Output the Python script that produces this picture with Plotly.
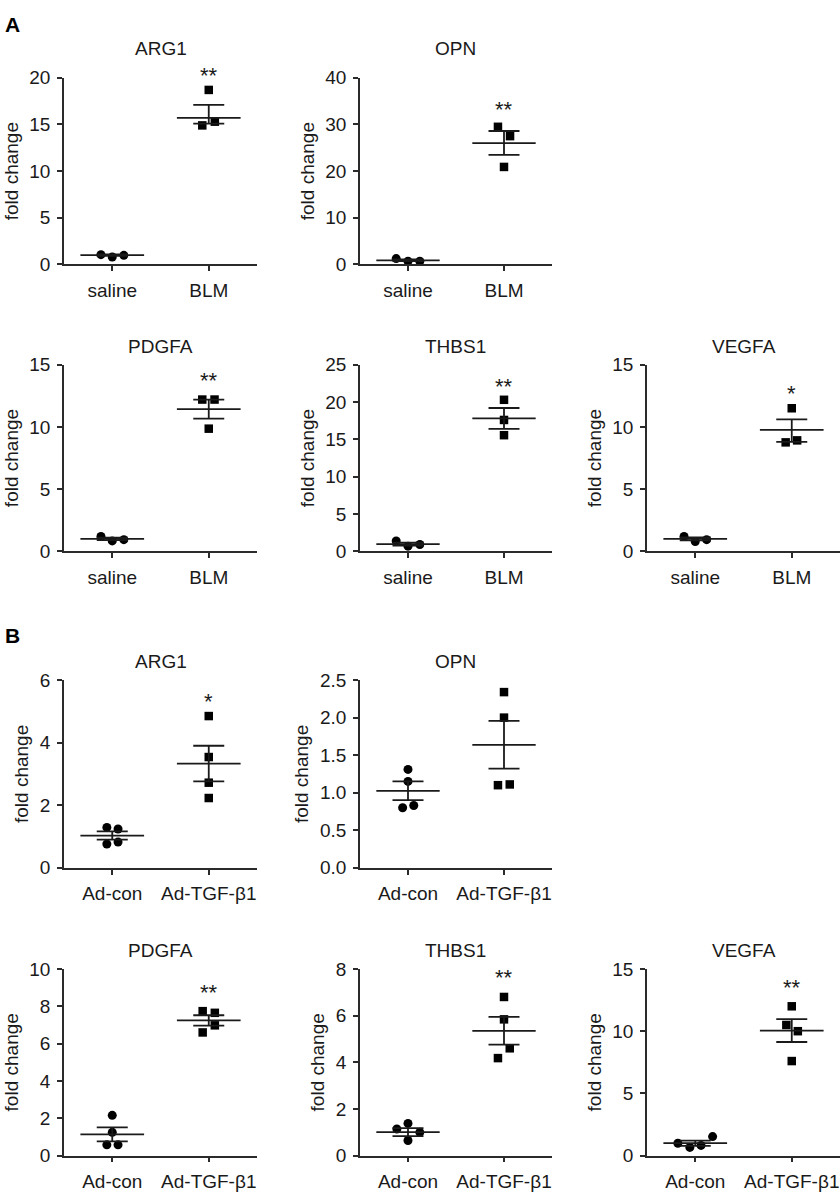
import plotly.graph_objects as go

W, H = 840, 1203

# ---------------- data ----------------
groups_A = ["saline", "BLM"]
groups_B = ["Ad-con", "Ad-TGF-\u03b21"]

# Panel A (bleomycin)
A_ARG1_ctrl = [1.05, 0.80, 0.98]
A_ARG1_trt = [18.7, 14.9, 15.3]
A_ARG1_mean = [1.0, 15.7]
A_ARG1_up = [0.07, 1.4]
A_ARG1_dn = [0.07, 0.6]

A_OPN_ctrl = [1.26, 0.70, 0.70]
A_OPN_trt = [29.5, 27.5, 20.9]
A_OPN_mean = [0.9, 26.0]
A_OPN_up = [0.19, 2.6]
A_OPN_dn = [0.19, 2.5]

A_PDGFA_ctrl = [1.20, 0.84, 0.94]
A_PDGFA_trt = [12.2, 12.2, 9.86]
A_PDGFA_mean = [1.0, 11.43]
A_PDGFA_up = [0.1, 0.77]
A_PDGFA_dn = [0.1, 0.76]

A_THBS1_ctrl = [1.40, 0.70, 0.92]
A_THBS1_trt = [20.3, 17.6, 15.56]
A_THBS1_mean = [0.96, 17.8]
A_THBS1_up = [0.2, 1.4]
A_THBS1_dn = [0.2, 1.4]

A_VEGFA_ctrl = [1.20, 0.79, 0.94]
A_VEGFA_trt = [11.5, 8.76, 8.92]
A_VEGFA_mean = [1.0, 9.76]
A_VEGFA_up = [0.12, 0.84]
A_VEGFA_dn = [0.12, 0.96]

# Panel B (Ad-TGF-beta1)
B_ARG1_ctrl = [1.29, 1.24, 0.76, 0.82]
B_ARG1_trt = [4.85, 3.54, 2.72, 2.23]
B_ARG1_mean = [1.03, 3.33]
B_ARG1_up = [0.13, 0.57]
B_ARG1_dn = [0.13, 0.57]

B_OPN_ctrl = [1.31, 1.15, 0.80, 0.83]
B_OPN_trt = [2.34, 2.00, 1.10, 1.11]
B_OPN_mean = [1.025, 1.636]
B_OPN_up = [0.125, 0.32]
B_OPN_dn = [0.125, 0.316]

B_PDGFA_ctrl = [2.16, 1.25, 0.58, 0.58]
B_PDGFA_trt = [7.74, 7.65, 6.98, 6.60]
B_PDGFA_mean = [1.14, 7.25]
B_PDGFA_up = [0.37, 0.27]
B_PDGFA_dn = [0.38, 0.28]

B_THBS1_ctrl = [1.38, 1.14, 1.00, 0.65]
B_THBS1_trt = [6.80, 5.84, 4.60, 4.18]
B_THBS1_mean = [1.01, 5.35]
B_THBS1_up = [0.17, 0.6]
B_THBS1_dn = [0.17, 0.59]

B_VEGFA_ctrl = [1.00, 0.66, 0.82, 1.53]
B_VEGFA_trt = [12.0, 10.5, 10.0, 7.6]
B_VEGFA_mean = [1.0, 10.05]
B_VEGFA_up = [0.21, 0.92]
B_VEGFA_dn = [0.21, 0.92]

# y-axis tick values
ticks_A_ARG1 = [0, 5, 10, 15, 20]
ticks_A_OPN = [0, 10, 20, 30, 40]
ticks_A_PDGFA = [0, 5, 10, 15]
ticks_A_THBS1 = [0, 5, 10, 15, 20, 25]
ticks_A_VEGFA = [0, 5, 10, 15]
ticks_B_ARG1 = [0, 2, 4, 6]
ticks_B_OPN = [0.0, 0.5, 1.0, 1.5, 2.0, 2.5]
ticks_B_PDGFA = [0, 2, 4, 6, 8, 10]
ticks_B_THBS1 = [0, 2, 4, 6, 8]
ticks_B_VEGFA = [0, 5, 10, 15]

# significance marks
stars_A = ["**", "**", "**", "**", "*"]
stars_B = ["*", "", "**", "**", "**"]

# ---------------- layout helpers (positions / styles) ----------------
cols_px = [(64, 257), (360, 552), (647, 840)]
rows_px = [(69, 259), (361, 551), (682, 873), (976, 1166)]

# horizontal scatter offsets (category units) for the dots
jit_A_ARG1 = ([-0.117, 0, 0.12], [0, -0.067, 0.063])
jit_A_OPN = ([-0.123, 0, 0.123], [-0.063, 0.063, 0])
jit_A_PDGFA = ([-0.117, 0, 0.12], [-0.067, 0.06, 0])
jit_A_THBS1 = ([-0.123, 0, 0.123], [0, 0, 0])
jit_A_VEGFA = ([-0.116, 0, 0.118], [0, -0.063, 0.056])
jit_B_ARG1 = ([-0.056, 0.06, -0.056, 0.06], [0, 0, 0, 0])
jit_B_OPN = ([0, 0, -0.056, 0.06], [0, 0, -0.063, 0.06])
jit_B_PDGFA = ([0, 0, -0.056, 0.06], [-0.063, 0.063, 0.063, -0.063])
jit_B_THBS1 = ([0, -0.116, 0.123, 0], [0, 0, 0.06, -0.063])
jit_B_VEGFA = ([-0.18, -0.056, 0.06, 0.18], [0, -0.056, 0.063, 0])

# vertical level (in axis units) of the significance marks
star_y_A = [20.8, 34.2, 14.1, 22.7, 13.1]
star_y_B = [5.48, 0, 9.0, 7.83, 13.9]

panels = [
    dict(title="ARG1", groups=groups_A, ctrl=A_ARG1_ctrl, trt=A_ARG1_trt, mean=A_ARG1_mean, up=A_ARG1_up, dn=A_ARG1_dn, ticks=ticks_A_ARG1, jit=jit_A_ARG1, star=stars_A[0], sy=star_y_A[0], r=0, c=0, fmt=""),
    dict(title="OPN", groups=groups_A, ctrl=A_OPN_ctrl, trt=A_OPN_trt, mean=A_OPN_mean, up=A_OPN_up, dn=A_OPN_dn, ticks=ticks_A_OPN, jit=jit_A_OPN, star=stars_A[1], sy=star_y_A[1], r=0, c=1, fmt=""),
    dict(title="PDGFA", groups=groups_A, ctrl=A_PDGFA_ctrl, trt=A_PDGFA_trt, mean=A_PDGFA_mean, up=A_PDGFA_up, dn=A_PDGFA_dn, ticks=ticks_A_PDGFA, jit=jit_A_PDGFA, star=stars_A[2], sy=star_y_A[2], r=1, c=0, fmt=""),
    dict(title="THBS1", groups=groups_A, ctrl=A_THBS1_ctrl, trt=A_THBS1_trt, mean=A_THBS1_mean, up=A_THBS1_up, dn=A_THBS1_dn, ticks=ticks_A_THBS1, jit=jit_A_THBS1, star=stars_A[3], sy=star_y_A[3], r=1, c=1, fmt=""),
    dict(title="VEGFA", groups=groups_A, ctrl=A_VEGFA_ctrl, trt=A_VEGFA_trt, mean=A_VEGFA_mean, up=A_VEGFA_up, dn=A_VEGFA_dn, ticks=ticks_A_VEGFA, jit=jit_A_VEGFA, star=stars_A[4], sy=star_y_A[4], r=1, c=2, fmt=""),
    dict(title="ARG1", groups=groups_B, ctrl=B_ARG1_ctrl, trt=B_ARG1_trt, mean=B_ARG1_mean, up=B_ARG1_up, dn=B_ARG1_dn, ticks=ticks_B_ARG1, jit=jit_B_ARG1, star=stars_B[0], sy=star_y_B[0], r=2, c=0, fmt=""),
    dict(title="OPN", groups=groups_B, ctrl=B_OPN_ctrl, trt=B_OPN_trt, mean=B_OPN_mean, up=B_OPN_up, dn=B_OPN_dn, ticks=ticks_B_OPN, jit=jit_B_OPN, star=stars_B[1], sy=star_y_B[1], r=2, c=1, fmt=".1f"),
    dict(title="PDGFA", groups=groups_B, ctrl=B_PDGFA_ctrl, trt=B_PDGFA_trt, mean=B_PDGFA_mean, up=B_PDGFA_up, dn=B_PDGFA_dn, ticks=ticks_B_PDGFA, jit=jit_B_PDGFA, star=stars_B[2], sy=star_y_B[2], r=3, c=0, fmt=""),
    dict(title="THBS1", groups=groups_B, ctrl=B_THBS1_ctrl, trt=B_THBS1_trt, mean=B_THBS1_mean, up=B_THBS1_up, dn=B_THBS1_dn, ticks=ticks_B_THBS1, jit=jit_B_THBS1, star=stars_B[3], sy=star_y_B[3], r=3, c=1, fmt=""),
    dict(title="VEGFA", groups=groups_B, ctrl=B_VEGFA_ctrl, trt=B_VEGFA_trt, mean=B_VEGFA_mean, up=B_VEGFA_up, dn=B_VEGFA_dn, ticks=ticks_B_VEGFA, jit=jit_B_VEGFA, star=stars_B[4], sy=star_y_B[4], r=3, c=2, fmt=""),
]

FONT = "Liberation Sans, Arial, Helvetica, sans-serif"
INK = "#1a1a1a"
AX = "#2b2b2b"
FS = 19
MEAN_HALF = 0.33
CAP_PX = 15.5

fig = go.Figure()
annotations = []

for i, p in enumerate(panels, start=1):
    xa = "x" if i == 1 else f"x{i}"
    ya = "y" if i == 1 else f"y{i}"
    x0, x1 = cols_px[p["c"]]
    t0, t1 = rows_px[p["r"]]
    xdom = [x0 / W, min(x1 / W, 1.0)]
    ydom = [1 - t1 / H, 1 - t0 / H]
    ymax = p["ticks"][-1]

    # individual points
    jc, jt = p["jit"]
    fig.add_trace(go.Scatter(
        x=[0 + d for d in jc], y=p["ctrl"], mode="markers",
        marker=dict(symbol="circle", size=9, color="black"),
        xaxis=xa, yaxis=ya, showlegend=False, cliponaxis=False, hoverinfo="y"))
    fig.add_trace(go.Scatter(
        x=[1 + d for d in jt], y=p["trt"], mode="markers",
        marker=dict(symbol="square", size=8.5, color="black"),
        xaxis=xa, yaxis=ya, showlegend=False, cliponaxis=False, hoverinfo="y"))

    # mean lines
    for g in range(2):
        fig.add_trace(go.Scatter(
            x=[g - MEAN_HALF, g + MEAN_HALF], y=[p["mean"][g]] * 2, mode="lines",
            line=dict(color=INK, width=1.8),
            xaxis=xa, yaxis=ya, showlegend=False, cliponaxis=False, hoverinfo="skip"))
    # SEM error bars
    fig.add_trace(go.Scatter(
        x=[0, 1], y=p["mean"], mode="markers",
        marker=dict(size=1, color="rgba(0,0,0,0)"),
        error_y=dict(type="data", symmetric=False, array=p["up"], arrayminus=p["dn"],
                     color=INK, thickness=1.8, width=CAP_PX),
        xaxis=xa, yaxis=ya, showlegend=False, cliponaxis=False, hoverinfo="skip"))

    axis_common = dict(showline=True, linecolor=AX, linewidth=1.6, ticks="outside",
                       ticklen=5, tickwidth=1.6, tickcolor=AX, showgrid=False,
                       zeroline=False, fixedrange=True, ticklabelstandoff=3,
                       tickfont=dict(family=FONT, size=FS, color=INK))
    fig.update_layout(**{
        ("xaxis" if i == 1 else f"xaxis{i}"): dict(
            domain=xdom, anchor=ya, range=[-0.5, 1.5], tickvals=[0, 1],
            ticktext=p["groups"], **axis_common),
        ("yaxis" if i == 1 else f"yaxis{i}"): dict(
            domain=ydom, anchor=xa, range=[0, ymax], tickvals=p["ticks"],
            tickformat=p["fmt"],
            title=dict(text="fold change", font=dict(family=FONT, size=FS, color=INK), standoff=6),
            **axis_common),
    })

    # panel title
    yt = 1 - (t0 - (30 if p["r"] == 0 else 19)) / H
    annotations.append(dict(text=p["title"], xref="paper", yref="paper",
                            x=(xdom[0] + xdom[1]) / 2, y=yt, xanchor="center", yanchor="middle",
                            showarrow=False, font=dict(family=FONT, size=FS, color=INK)))
    # significance mark (placed in paper space so it may sit above the axis top)
    if p["star"]:
        sy_paper = ydom[0] + (ydom[1] - ydom[0]) * p["sy"] / ymax
        sx_paper = xdom[0] + (xdom[1] - xdom[0]) * (1 + 0.5) / 2.0
        annotations.append(dict(text=p["star"], xref="paper", yref="paper", x=sx_paper, y=sy_paper,
                                xanchor="center", yanchor="middle", yshift=-5,
                                showarrow=False, font=dict(family=FONT, size=22, color=INK)))

# panel letters
annotations.append(dict(text="<b>A</b>", xref="paper", yref="paper", x=3 / W, y=1 - 15 / H,
                        xanchor="left", yanchor="middle", showarrow=False,
                        font=dict(family=FONT, size=21, color="black")))
annotations.append(dict(text="<b>B</b>", xref="paper", yref="paper", x=3 / W, y=1 - 637 / H,
                        xanchor="left", yanchor="middle", showarrow=False,
                        font=dict(family=FONT, size=21, color="black")))

fig.update_layout(
    width=W, height=H, margin=dict(l=0, r=0, t=0, b=0),
    paper_bgcolor="white", plot_bgcolor="white",
    annotations=annotations, showlegend=False,
    font=dict(family=FONT, color=INK),
)

fig.write_html("out.html", config={"displayModeBar": False},
               post_script="document.body.style.margin='0';document.body.style.padding='0';")
